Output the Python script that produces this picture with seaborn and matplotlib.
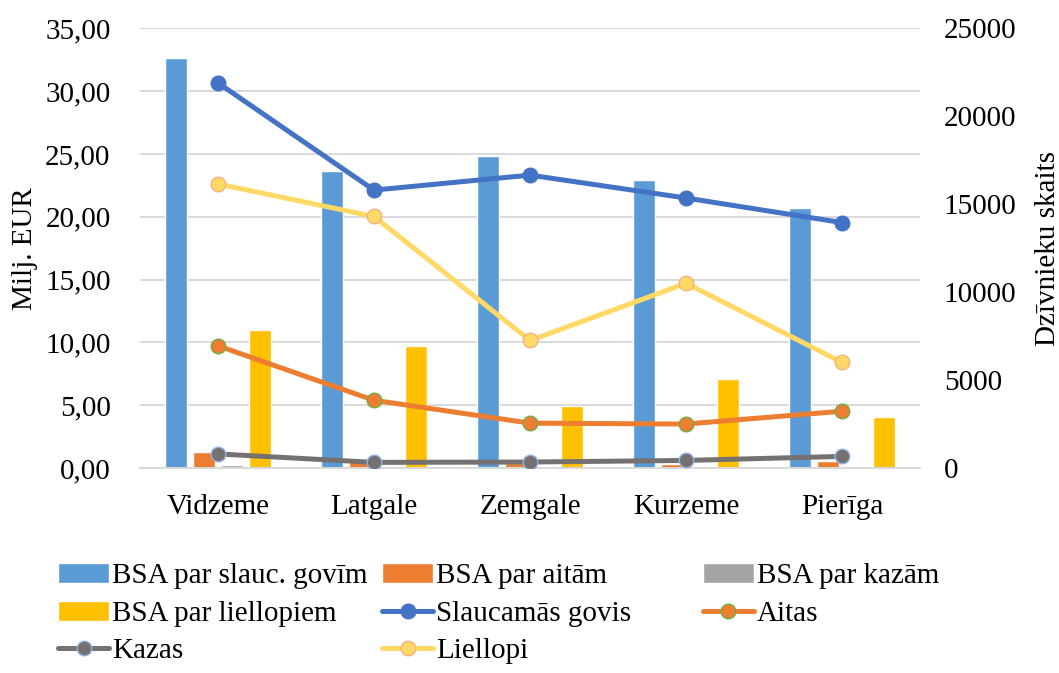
#!/usr/bin/env python3

import matplotlib
matplotlib.use("Agg")
from matplotlib import pyplot as plt
from matplotlib.ticker import FuncFormatter, MultipleLocator
import numpy as np
import pandas as pd
import seaborn as sns

# Regions
regions = ["Vidzeme", "Latgale", "Zemgale", "Kurzeme", "Pierīga"]

# BSA payments, milj. EUR (left axis)
bsa_govim = [32.6, 23.6, 24.8, 22.9, 20.7]
bsa_aitam = [1.3, 0.7, 0.4, 0.35, 0.55]
bsa_kazam = [0.2, 0.05, 0.1, 0.08, 0.15]
bsa_liellopiem = [10.95, 9.7, 4.95, 7.1, 4.05]

# Number of animals (right axis)
slaucamas_govis = [21900, 15800, 16650, 15350, 13950]
aitas = [6950, 3850, 2550, 2500, 3230]
kazas = [800, 320, 340, 430, 660]
liellopi = [16150, 14300, 7250, 10500, 6000]

bar_names = ["BSA par slauc. govīm", "BSA par aitām", "BSA par kazām",
             "BSA par liellopiem"]
line_names = ["Slaucamās govis", "Aitas", "Kazas", "Liellopi"]

FS = 21


def main():
    sns.set_theme(style="white")
    plt.rcParams["font.family"] = ["Liberation Serif", "DejaVu Serif"]
    for key in ["text.color", "axes.labelcolor", "xtick.color",
                "ytick.color"]:
        plt.rcParams[key] = "black"

    fig = plt.figure(figsize=(10.59, 6.73), dpi=100)
    ax1 = fig.add_axes([0.132, 0.3046, 0.737, 0.6534])
    ax2 = ax1.twinx()

    # Bars
    df_bars = pd.DataFrame(
            [bsa_govim, bsa_aitam, bsa_kazam, bsa_liellopiem],
            index=bar_names, columns=regions,
            ).T
    df_bars["region"] = df_bars.index
    df_long = df_bars.melt(id_vars=["region"], value_vars=bar_names)
    bar_colors = ["#5B9BD5", "#ED7D31", "#A5A5A5", "#FFC000"]
    sns.barplot(df_long, x="region", y="value", hue="variable",
                palette=bar_colors, saturation=1, width=0.72, gap=0.22,
                ax=ax1, legend=True, zorder=2)

    # Lines
    df_lines = pd.DataFrame(
            [slaucamas_govis, aitas, kazas, liellopi],
            index=line_names, columns=regions,
            ).T
    df_lines["pos"] = pd.Categorical(df_lines.index, categories=regions).codes
    line_styles = [
            ("#4472C4", "#4472C4", "#4472C4"),
            ("#ED7D31", "#ED7D31", "#70AD47"),
            ("#767171", "#767171", "#8FB4E3"),
            ("#FFD966", "#FFD966", "#F4B183"),
            ]
    for name, (lc, fc, ec) in zip(line_names, line_styles):
        sns.lineplot(df_lines, x="pos", y=name, ax=ax2, color=lc,
                     linewidth=3.6, marker="o", markersize=10.5,
                     markerfacecolor=fc, markeredgecolor=ec,
                     markeredgewidth=1.0, label=name)

    # Axes
    ax1.set_ylim(0, 35)
    ax2.set_ylim(0, 25000)
    ax1.set_xlim(-0.5, 4.5)
    ax1.yaxis.set_major_locator(MultipleLocator(5))
    ax2.yaxis.set_major_locator(MultipleLocator(5000))
    ax1.yaxis.set_major_formatter(
            FuncFormatter(lambda v, p: f"{v:.2f}".replace(".", ",")))
    ax1.set_xticks(range(len(regions)))
    ax1.set_xticklabels(regions)
    ax1.grid(axis="y", color="#D9D9D9", linewidth=1.4, zorder=0)
    ax1.set_axisbelow(True)
    ax2.grid(False)
    for ax in (ax1, ax2):
        for s in ax.spines.values():
            s.set_visible(False)
    ax1.spines["bottom"].set_visible(True)
    ax1.spines["bottom"].set_color("#D9D9D9")
    ax1.spines["bottom"].set_linewidth(1.4)

    ax1.tick_params(axis="y", length=0, pad=21, labelsize=FS)
    ax1.tick_params(axis="x", length=0, pad=19, labelsize=FS)
    ax2.tick_params(axis="y", length=0, pad=17, labelsize=FS)
    ax1.set_xlabel("")
    ax2.set_xlabel("")
    ax1.set_ylabel("Milj. EUR", fontsize=FS, labelpad=5)
    ax2.set_ylabel("Dzīvnieku skaits", fontsize=FS, labelpad=13)

    # Legend, one column at a time so the columns sit where they should
    h1, l1 = ax1.get_legend_handles_labels()
    h2, l2 = ax2.get_legend_handles_labels()
    ax1.get_legend().remove()
    ax2.get_legend().remove()
    handles = h1 + h2
    labels = l1 + l2
    columns = [([0, 3, 6], 0.041), ([1, 4, 7], 0.347), ([2, 5], 0.650)]
    for idx, x0 in columns:
        fig.legend([handles[i] for i in idx], [labels[i] for i in idx],
                   loc="upper left", bbox_to_anchor=(x0, 0.185), ncol=1,
                   frameon=False, fontsize=FS, borderpad=0,
                   handlelength=1.75, handletextpad=0.1, labelspacing=0.38)

    fig.savefig("out.png", dpi=100)


if __name__ == "__main__":
    main()
